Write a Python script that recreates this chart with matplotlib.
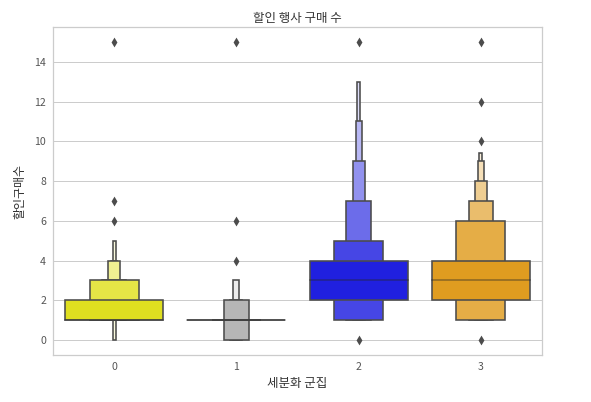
import matplotlib
matplotlib.use("Agg")
import matplotlib.pyplot as plt
import matplotlib.colors as mcolors
import colorsys
import numpy as np

plt.rcParams['font.family'] = ['Noto Sans CJK KR', 'DejaVu Sans']

# ---- data ----
clusters = ["0", "1", "2", "3"]
base_colors = ["yellow", "gray", "blue", "orange"]
# letter-value box ends, ordered outermost level -> innermost level
lv_low = [[0, 1, 1, 1, 1, 1],
          [0, 0, 0, 1, 1],
          [1, 1, 1, 1, 1, 2],
          [1, 1, 1, 1, 1, 2]]
lv_high = [[5, 4, 4, 3, 3, 2],
           [3, 2, 2, 1, 1],
           [13, 11, 9, 7, 5, 4],
           [9.4, 9, 8, 7, 6, 4]]
medians = [1, 1, 3, 3]
outliers = [[6, 7, 15], [4, 6, 15], [0, 15], [0, 10, 12, 15]]

title = "할인 행사 구매 수"
xlabel = "세분화 군집"
ylabel = "할인구매수"


def desaturate(c, prop=0.75):
    r, g, b = mcolors.to_rgb(c)
    h, l, s = colorsys.rgb_to_hls(r, g, b)
    return np.array(colorsys.hls_to_rgb(h, l, s * prop))


dpi = 72
fig = plt.figure(figsize=(591 / dpi, 402 / dpi), dpi=dpi)
ax = fig.add_axes([53 / 591, 1 - 355 / 402, 489 / 591, 328 / 402])

edge = "#4c4c4c"
full_width = 0.8
for i, name in enumerate(clusters):
    base = desaturate(base_colors[i])
    lows, highs = lv_low[i], lv_high[i]
    k = len(lows)
    vals = np.linspace(1, 0, k)
    for j in range(k):
        w = full_width * 2.0 ** (j - k + 1)
        col = base + vals[j] * 0.85 * (1 - base)
        ax.bar(i, highs[j] - lows[j], width=w, bottom=lows[j],
               color=col, edgecolor=edge, linewidth=1.6, zorder=1)
    ax.plot([i - full_width / 2, i + full_width / 2], [medians[i], medians[i]],
            color='.15', alpha=.45, lw=1.6, zorder=2)
    ax.scatter(np.full(len(outliers[i]), i), outliers[i], marker='d',
               s=48, color=edge, zorder=3, linewidths=0)

allv = [v for l in lv_low for v in l] + [v for o in outliers for v in o]
allv += [v for l in lv_high for v in l]
lo, hi = min(allv), max(allv)
pad = (hi - lo) * 0.05
ax.set_ylim(lo - pad, hi + pad)
ax.set_xlim(-0.5, len(clusters) - 0.5)
ax.set_xticks(range(len(clusters)))
ax.set_xticklabels(clusters)
ax.set_yticks(np.arange(0, 15, 2))

ax.set_facecolor("white")
ax.yaxis.grid(True, color='.8', lw=1)
ax.xaxis.grid(False)
ax.set_axisbelow(True)
for sp in ax.spines.values():
    sp.set_color('.8')
    sp.set_linewidth(1.25)
ax.tick_params(length=0, labelsize=10.5, labelcolor='#555555', pad=7)

ax.set_title(title, fontsize=12.5, color='#333333', pad=5)
ax.set_xlabel(xlabel, fontsize=12.5, color='#333333', labelpad=5)
ax.set_ylabel(ylabel, fontsize=12, color='#333333', labelpad=8)

fig.savefig("out.png", dpi=dpi, facecolor="white")
